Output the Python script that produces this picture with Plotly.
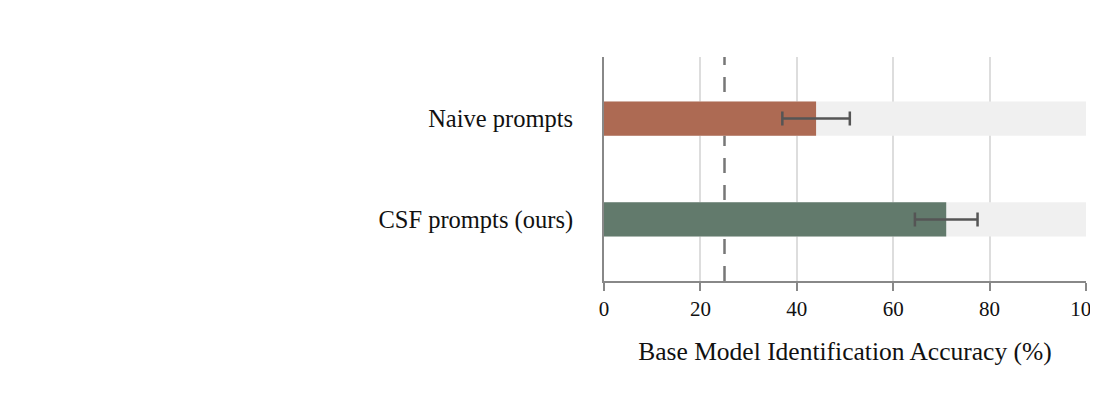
import plotly.graph_objects as go

categories = ["Naive prompts", "CSF prompts (ours)"]
accuracy = [44.0, 71.0]
err_plus = [7.0, 6.5]
err_minus = [7.0, 6.5]
bar_colors = ["#ad6a53", "#627a6c"]
full_scale = [100, 100]
chance_level = 25
x_ticks = [0, 20, 40, 60, 80, 100]

serif = "Liberation Serif, Times New Roman, serif"

fig = go.Figure()
fig.add_trace(go.Bar(
    y=categories, x=full_scale, orientation="h",
    marker=dict(color="#f0f0f0", line=dict(width=0)),
    width=0.34, hoverinfo="skip", showlegend=False,
))
fig.add_trace(go.Bar(
    y=categories, x=accuracy, orientation="h",
    marker=dict(color=bar_colors, line=dict(width=0)),
    width=0.34, showlegend=False,
    error_x=dict(type="data", array=err_plus, arrayminus=err_minus,
                 color="#555555", thickness=2.5, width=7),
))

fig.add_shape(type="line", xref="x", yref="paper",
              x0=chance_level, x1=chance_level, y0=0, y1=1,
              line=dict(color="#777777", width=2.5, dash="15px,12px"),
              layer="below")

fig.update_layout(
    width=1090, height=411,
    margin=dict(l=596, r=12, t=49, b=138),
    barmode="overlay",
    plot_bgcolor="white", paper_bgcolor="white",
    font=dict(family=serif, color="#111111"),
    xaxis=dict(
        range=[0, 100], tickvals=x_ticks,
        automargin=False,
        showgrid=True, gridcolor="#dddddd", gridwidth=1.5,
        showline=True, linecolor="#888888", linewidth=2,
        ticks="outside", ticklen=8, tickwidth=2, tickcolor="#888888",
        tickfont=dict(size=21, family=serif, color="#111111"),
        ticklabeloverflow="allow",
        zeroline=False,
        title=dict(text="Base Model Identification Accuracy (%)",
                   font=dict(size=25.5, family=serif, color="#111111"),
                   standoff=22),
    ),
    yaxis=dict(
        type="category",
        automargin=False,
        categoryorder="array", categoryarray=categories[::-1],
        range=[-0.61, 1.61],
        showgrid=False, showline=True, linecolor="#888888", linewidth=2,
        ticks="", ticklabelstandoff=24,
        tickfont=dict(size=24.5, family=serif, color="#111111"),
        zeroline=False,
    ),
)

fig.write_html("out.html")
